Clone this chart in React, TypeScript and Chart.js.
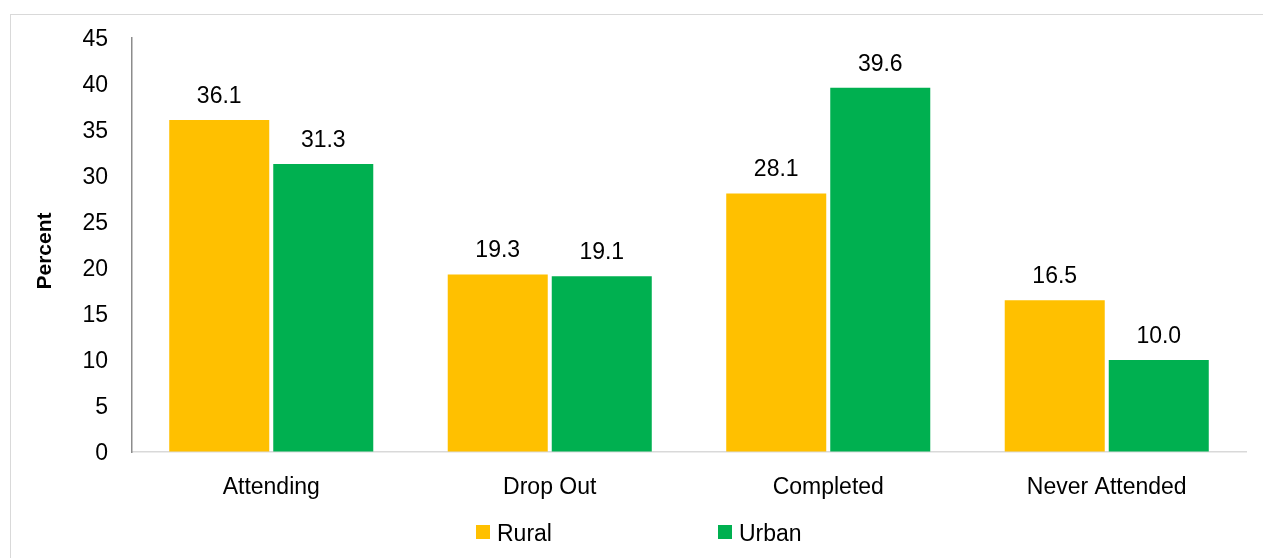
import React, { useEffect, useRef } from "react";
import { Chart, registerables } from "chart.js";

Chart.register(...registerables);

const categories = ["Attending", "Drop Out", "Completed", "Never Attended"];
const seriesNames = ["Rural", "Urban"];
const rural = [36.1, 19.3, 28.1, 16.5];
const urban = [31.3, 19.1, 39.6, 10.0];
const yTicks = [0, 5, 10, 15, 20, 25, 30, 35, 40, 45];
const yTitle = "Percent";

const YELLOW = "#FFC000";
const GREEN = "#00B050";
const FONT = "'Liberation Sans', Arial, sans-serif";

const decorPlugin = {
  id: "decor",
  afterDatasetsDraw(chart: any) {
    const ctx = chart.ctx;
    ctx.save();
    ctx.fillStyle = "#000";
    ctx.font = `23px ${FONT}`;
    ctx.textAlign = "center";
    ctx.textBaseline = "alphabetic";
    chart.data.datasets.forEach((ds: any, i: number) => {
      const meta = chart.getDatasetMeta(i);
      meta.data.forEach((bar: any, j: number) => {
        const v = ds.data[j];
        ctx.fillText(v.toFixed(1), bar.x, bar.y - 17);
      });
    });
    // y title
    ctx.save();
    ctx.translate(45, 251);
    ctx.rotate(-Math.PI / 2);
    ctx.font = `bold 21px ${FONT}`;
    ctx.textAlign = "center";
    ctx.textBaseline = "middle";
    ctx.fillText(yTitle, 0, 0);
    ctx.restore();
    // legend
    const items = [
      { x: 476, color: YELLOW, label: seriesNames[0] },
      { x: 718, color: GREEN, label: seriesNames[1] },
    ];
    ctx.font = `23px ${FONT}`;
    ctx.textAlign = "left";
    ctx.textBaseline = "middle";
    items.forEach((it) => {
      ctx.fillStyle = it.color;
      ctx.fillRect(it.x, 525, 14, 14);
      ctx.fillStyle = "#000";
      ctx.fillText(it.label, it.x + 21, 535);
    });
    ctx.restore();
  },
};

export default function App() {
  const ref = useRef<HTMLCanvasElement | null>(null);
  useEffect(() => {
    if (!ref.current) return;
    const chart = new Chart(ref.current, {
      type: "bar",
      data: {
        labels: categories,
        datasets: [
          {
            label: seriesNames[0],
            data: rural,
            backgroundColor: YELLOW,
            categoryPercentage: 0.747,
            barPercentage: 0.9615,
          },
          {
            label: seriesNames[1],
            data: urban,
            backgroundColor: GREEN,
            categoryPercentage: 0.747,
            barPercentage: 0.9615,
          },
        ],
      },
      options: {
        animation: false,
        responsive: true,
        maintainAspectRatio: false,
        layout: { padding: { top: 38, right: 17, left: 0, bottom: 0 } },
        plugins: {
          legend: { display: false },
          tooltip: { enabled: false },
        },
        scales: {
          x: {
            grid: { color: "rgba(0,0,0,0)", drawTicks: false },
            border: { display: true, color: "#d9d9d9", width: 1.5 },
            ticks: {
              color: "#000",
              font: { family: FONT, size: 23 },
              padding: 22,
            },
            afterFit: (s: any) => {
              s.height = 106;
            },
          },
          y: {
            min: 0,
            max: 45,
            afterBuildTicks: (s: any) => {
              s.ticks = yTicks.map((v) => ({ value: v }));
            },
            grid: { color: "rgba(0,0,0,0)", drawTicks: false },
            border: { display: true, color: "#8c8c8c", width: 1.5 },
            ticks: {
              color: "#000",
              font: { family: FONT, size: 23 },
              padding: 24,
              labelOffset: 2,
            },
            afterFit: (s: any) => {
              s.width = 132;
            },
          },
        },
      },
      plugins: [decorPlugin],
    });
    return () => chart.destroy();
  }, []);

  return (
    <>
      <div
        style={{
          position: "fixed",
          left: 10,
          top: 14,
          right: 0,
          bottom: 0,
          borderLeft: "1.5px solid #d9d9d9",
          borderTop: "1.5px solid #d9d9d9",
        }}
      />
      <div style={{ position: "fixed", left: 0, top: 0, width: 1263, height: 558 }}>
        <canvas ref={ref} />
      </div>
    </>
  );
}
